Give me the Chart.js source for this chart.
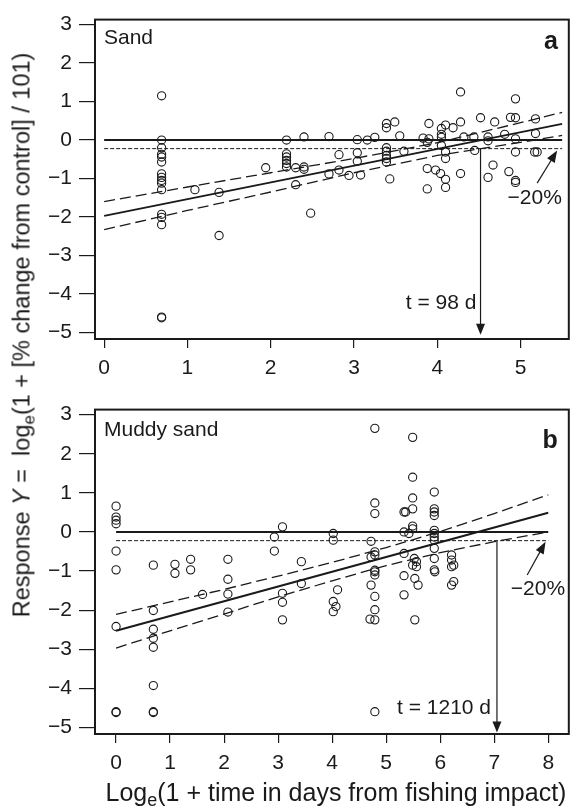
<!DOCTYPE html>
<html>
<head>
<meta charset="utf-8">
<script src="https://cdn.jsdelivr.net/npm/chart.js@4.4.1/dist/chart.umd.min.js"></script>
<style>
  body { margin: 0; background: #fff; }
  #wrap { position: relative; width: 574px; height: 809px; font-family: "Liberation Sans", Arial, Helvetica, sans-serif; color: #1a1a1a; }
  canvas { position: absolute; left: 0; }
  .title { position: absolute; white-space: nowrap; transform: translate(-50%, -50%); }
  #ytitle { left: 22px; top: 335px; font-size: 23.5px; transform: translate(-50%, -50%) rotate(-90deg); }
  #xtitle { left: 336px; top: 792px; font-size: 25px; }
  sub { font-size: 0.72em; vertical-align: -0.28em; line-height: 0; }
</style>
</head>
<body>
<div id="wrap">
  <canvas id="sandChart" width="574" height="390" style="top:0"></canvas>
  <canvas id="muddyChart" width="574" height="419" style="top:390px"></canvas>
  <div class="title" id="ytitle">Response <i>Y</i> = &nbsp;log<sub>e</sub>(1 + [% change from control] / 101)</div>
  <div class="title" id="xtitle">Log<sub>e</sub>(1 + time in days from fishing impact)</div>
</div>
<script>
// ---- data ----
const yTickValues = [-5, -4, -3, -2, -1, 0, 1, 2, 3];
const sandTicks = [0, 1, 2, 3, 4, 5];
const muddyTicks = [0, 1, 2, 3, 4, 5, 6, 7, 8];
const pctLevel = -0.223;   // log(0.8), the -20% line

// (a) Sand
const sandX = [
  0.69, 0.69, 0.69, 0.69, 0.69, 0.69, 0.69, 0.69, 0.69, 0.69, 0.69, 0.69, 0.69, 0.69, 0.69, 0.69,
  1.09, 1.38, 1.38, 1.94,
  2.19, 2.19, 2.19, 2.19, 2.19, 2.19,
  2.30, 2.40, 2.40, 2.40, 2.30, 2.48, 2.70, 2.70,
  2.82, 2.82, 2.94, 3.08, 3.04, 3.04, 3.04, 3.16, 3.25,
  3.39, 3.39, 3.49, 3.39, 3.39, 3.39, 3.39, 3.39,
  3.43, 3.55, 3.60, 3.83, 3.88, 3.90, 3.90, 3.88, 3.98, 4.04, 4.10, 4.10, 3.88,
  4.05, 4.10, 4.19, 4.28, 4.28, 4.05, 4.05, 4.05, 4.10, 4.10, 4.28,
  4.32, 4.44, 4.45, 4.52, 4.61, 4.61, 4.69, 4.67, 4.61,
  4.81, 4.88, 4.86, 4.94, 4.94, 4.94, 4.94, 4.94, 4.94,
  5.18, 5.18, 5.17, 5.20
];
const sandY = [
  1.15, 0.00, -0.20, -0.37, -0.44, -0.57, -0.88, -0.97, -1.05, -1.12, -1.29, -1.93, -2.01, -2.20, -4.60, -4.62,
  -1.29, -1.36, -2.48, -0.72,
  0.00, -0.36, -0.44, -0.53, -0.61, -0.70,
  -0.72, -0.70, -0.76, 0.08, -1.16, -1.90, 0.09, -0.88,
  -0.38, -0.78, -0.92, -0.91, 0.01, -0.33, -0.55, 0.00, 0.07,
  0.43, 0.32, 0.47, -0.20, -0.29, -0.40, -0.48, -0.57,
  -1.01, 0.11, -0.29, 0.05, -0.06, 0.03, 0.43, -0.74, -0.78, -0.87, -1.02, -1.23, -1.27,
  0.30, 0.39, 0.32, 0.47, 1.25, 0.15, 0.07, -0.14, -0.31, -0.48, -0.87,
  0.08, 0.08, -0.27, 0.58, 0.08, -0.02, 0.47, -0.65, -0.97,
  0.15, 0.59, -0.82, -1.05, -1.10, 1.07, 0.58, 0.03, -0.31,
  0.55, 0.17, -0.31, -0.31
];
const sandFitX = [0, 5.5];
const sandFitY = [-1.97, 0.42];
const sandBandX = [0, 1, 2, 3, 4, 5, 5.5];
const sandUpper = [-1.60, -1.22, -0.85, -0.48, -0.07, 0.45, 0.72];
const sandLower = [-2.33, -1.83, -1.35, -0.85, -0.40, -0.06, 0.12];
const sandRefX = [0, 5.5];

// (b) Muddy sand
const muddyX = [
  0, 0, 0, 0, 0, 0, 0, 0, 0,
  0.69, 0.69, 0.69, 0.69, 0.69, 0.69, 0.69, 0.69,
  1.09, 1.09, 1.38, 1.38, 1.60,
  2.07, 2.07, 2.07, 2.07,
  2.93, 2.93, 3.08, 3.08, 3.08, 3.08, 3.43, 3.43,
  4.02, 4.02, 4.02, 4.07, 4.02, 4.10,
  4.72, 4.79, 4.79, 4.79, 4.72, 4.79, 4.79, 4.79, 4.79, 4.79, 4.72, 4.79, 4.79, 4.70, 4.79, 4.79,
  5.49, 5.49, 5.49, 5.49, 5.33, 5.36, 5.49, 5.49, 5.33, 5.42, 5.33, 5.52, 5.56, 5.49, 5.56, 5.33, 5.33, 5.53, 5.59, 5.53,
  5.89, 5.89, 5.89, 5.89, 5.89, 5.89, 5.89, 5.89, 5.89, 5.89, 5.89, 5.90,
  6.21, 6.21, 6.25, 6.21, 6.25, 6.21
];
const muddyY = [
  0.66, 0.38, 0.30, 0.21, -0.49, -0.97, -2.42, -4.60, -4.62,
  -0.85, -2.01, -2.49, -2.72, -2.95, -3.93, -4.60, -4.62,
  -0.83, -1.06, -0.70, -0.97, -1.60,
  -0.70, -1.21, -1.59, -2.05,
  -0.13, -0.49, 0.13, -1.57, -1.80, -2.25, -0.76, -1.32,
  -0.04, -0.21, -1.78, -1.91, -2.04, -1.48,
  -0.24, 2.65, 0.74, 0.47, -0.64, -0.59, -0.51, -0.98, -1.02, -1.10, -1.36, -1.65, -1.99, -2.23, -2.25, -4.60,
  2.42, 1.40, 0.87, 0.59, 0.51, 0.51, 0.15, 0.08, 0.00, -0.04, -0.55, -0.68, -0.76, -0.85, -0.89, -1.12, -1.61, -1.19, -1.36, -2.25,
  1.02, 0.59, 0.51, 0.42, 0.04, -0.04, -0.13, -0.21, -0.42, -0.68, -0.97, -1.02,
  -0.59, -0.72, -0.85, -1.36, -1.27, -0.89
];
const muddyFitX = [0, 8];
const muddyFitY = [-2.53, 0.49];
const muddyBandX = [0, 1, 2, 3, 4, 5, 6, 7, 8];
const muddyUpper = [-2.11, -1.79, -1.47, -1.13, -0.78, -0.40, 0.01, 0.47, 0.95];
const muddyLower = [-2.97, -2.53, -2.10, -1.66, -1.25, -0.86, -0.53, -0.25, 0.00];
const muddyRefX = [0, 8];

const FONT = '"Liberation Sans", Arial, Helvetica, sans-serif';
const INK = '#1a1a1a';

const pts = (xs, ys) => xs.map((x, i) => ({ x: x, y: ys[i] }));
const flat = (xs, v) => xs.map(x => ({ x: x, y: v }));

function lineSet(data, width, dash) {
    return {
        data: data, showLine: true, pointRadius: 0, borderColor: INK,
        borderWidth: width, borderDash: dash || [], fill: false
    };
}

function arrowHead(ctx, x0, y0, x1, y1, len, half) {
    const ang = Math.atan2(y1 - y0, x1 - x0);
    ctx.beginPath();
    ctx.moveTo(x1, y1);
    ctx.lineTo(x1 - len * Math.cos(ang) + half * Math.sin(ang), y1 - len * Math.sin(ang) - half * Math.cos(ang));
    ctx.lineTo(x1 - len * Math.cos(ang) - half * Math.sin(ang), y1 - len * Math.sin(ang) + half * Math.cos(ang));
    ctx.closePath();
    ctx.fill();
}

// frame, panel names, the -20% arrow and the recovery-time arrow
const annotate = {
    id: 'annotate',
    afterDatasetsDraw(chart) {
        const o = chart.options.plugins.annotate;
        const { ctx, chartArea: a, scales: { x, y } } = chart;
        ctx.save();
        ctx.strokeStyle = INK;
        ctx.fillStyle = INK;
        ctx.lineWidth = 2;
        ctx.strokeRect(a.left, a.top, a.right - a.left, a.bottom - a.top);

        ctx.textBaseline = 'alphabetic';
        ctx.textAlign = 'left';
        ctx.font = '21px ' + FONT;
        ctx.fillText(o.name, a.left + 9, a.top + o.nameDy);
        ctx.textAlign = 'right';
        ctx.font = 'bold 25px ' + FONT;
        ctx.fillText(o.letter, a.right - 11, a.top + o.letterDy);

        // vertical line down to the recovery time
        const tx = x.getPixelForValue(o.tX);
        const ty0 = y.getPixelForValue(pctLevel);
        const ty1 = y.getPixelForValue(o.tipY);
        ctx.lineWidth = 1.2;
        ctx.beginPath();
        ctx.moveTo(tx, ty0);
        ctx.lineTo(tx, ty1 - 8);
        ctx.stroke();
        arrowHead(ctx, tx, ty0, tx, ty1, 11, 4.5);

        ctx.font = '21px ' + FONT;
        ctx.textBaseline = 'middle';
        ctx.textAlign = 'right';
        ctx.fillText(o.tText, x.getPixelForValue(o.tTextX), y.getPixelForValue(o.tTextY));

        // -20% label and arrow
        ctx.textAlign = 'center';
        ctx.fillText('\u221220%', x.getPixelForValue(o.pctX), y.getPixelForValue(o.pctY));
        const ax0 = x.getPixelForValue(o.arrFrom[0]), ay0 = y.getPixelForValue(o.arrFrom[1]);
        const ax1 = x.getPixelForValue(o.arrTo[0]), ay1 = y.getPixelForValue(o.arrTo[1]);
        ctx.beginPath();
        ctx.moveTo(ax0, ay0);
        ctx.lineTo(ax0 + (ax1 - ax0) * 0.8, ay0 + (ay1 - ay0) * 0.8);
        ctx.stroke();
        arrowHead(ctx, ax0, ay0, ax1, ay1, 12, 4.5);
        ctx.restore();
    }
};

function makeChart(id, p) {
    const tickFmt = v => (v < 0 ? '\u2212' + Math.abs(v) : String(v));
    new Chart(document.getElementById(id), {
        type: 'scatter',
        data: {
            datasets: [
                {
                    data: pts(p.xs, p.ys), pointRadius: 4.1, pointBorderWidth: 1.1,
                    pointBorderColor: INK, pointBackgroundColor: 'rgba(0,0,0,0)'
                },
                lineSet(flat(p.refX, 0), 2),
                lineSet(flat(p.refX, pctLevel), 1, [4, 2]),
                lineSet(pts(p.fitX, p.fitY), 2),
                lineSet(pts(p.bandX, p.upper), 1.3, [11, 5]),
                lineSet(pts(p.bandX, p.lower), 1.3, [11, 5])
            ]
        },
        options: {
            responsive: false,
            animation: false,
            devicePixelRatio: 1,
            layout: { padding: { top: p.top, right: 4, left: 0, bottom: 0 } },
            plugins: { legend: { display: false }, tooltip: { enabled: false }, annotate: p.anno },
            scales: {
                x: {
                    type: 'linear', min: p.xMin, max: p.xMax,
                    afterBuildTicks: s => { s.ticks = p.xTicks.map(v => ({ value: v })); },
                    afterFit: s => { s.height = p.xHeight; },
                    border: { display: false },
                    grid: { drawOnChartArea: false, tickLength: 9, color: INK, lineWidth: 1.2 },
                    ticks: { font: { family: FONT, size: 21 }, color: INK, padding: 8, maxRotation: 0, callback: tickFmt }
                },
                y: {
                    type: 'linear', min: -5.17, max: 3.13,
                    afterBuildTicks: s => { s.ticks = yTickValues.map(v => ({ value: v })); },
                    afterFit: s => { s.width = 95; },
                    border: { display: false },
                    grid: { drawOnChartArea: false, tickLength: 16, color: INK, lineWidth: 1.2 },
                    ticks: { font: { family: FONT, size: 21 }, color: INK, padding: 7, callback: tickFmt }
                }
            }
        },
        plugins: [annotate]
    });
}

makeChart('sandChart', {
    xs: sandX, ys: sandY, fitX: sandFitX, fitY: sandFitY,
    bandX: sandBandX, upper: sandUpper, lower: sandLower, refX: sandRefX,
    xTicks: sandTicks, xMin: -0.11, xMax: 5.58, top: 13, xHeight: 51,
    anno: {
        name: 'Sand', nameDy: 24, letter: 'a', letterDy: 29,
        tX: 4.52, tipY: -5.06, tText: 't = 98 d', tTextX: 4.47, tTextY: -4.25,
        pctX: 5.17, pctY: -1.50, arrFrom: [5.20, -1.12], arrTo: [5.44, -0.27]
    }
});

makeChart('muddyChart', {
    xs: muddyX, ys: muddyY, fitX: muddyFitX, fitY: muddyFitY,
    bandX: muddyBandX, upper: muddyUpper, lower: muddyLower, refX: muddyRefX,
    xTicks: muddyTicks, xMin: -0.39, xMax: 8.38, top: 17, xHeight: 75,
    anno: {
        name: 'Muddy sand', nameDy: 26, letter: 'b', letterDy: 38,
        tX: 7.05, tipY: -5.13, tText: 't = 1210 d', tTextX: 6.94, tTextY: -4.52,
        pctX: 7.81, pctY: -1.46, arrFrom: [7.61, -1.10], arrTo: [7.95, -0.25]
    }
});
</script>
</body>
</html>
